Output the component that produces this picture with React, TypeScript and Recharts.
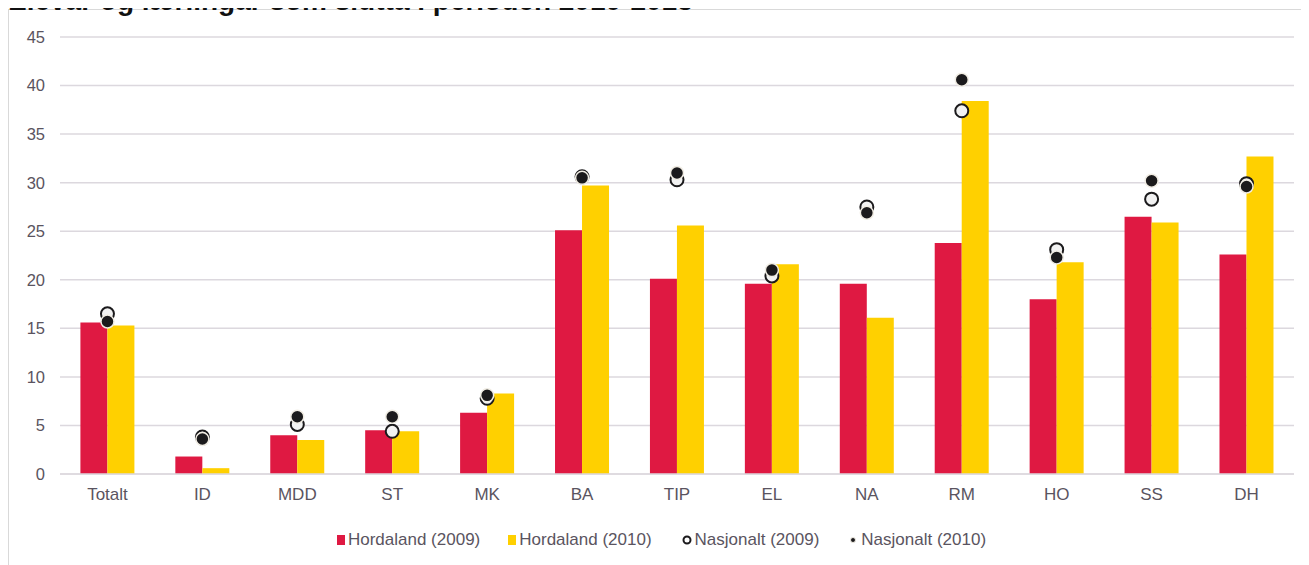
import React from 'react';
import { ComposedChart, Bar, Scatter, XAxis, YAxis, CartesianGrid, Legend } from 'recharts';

const categories = ['Totalt', 'ID', 'MDD', 'ST', 'MK', 'BA', 'TIP', 'EL', 'NA', 'RM', 'HO', 'SS', 'DH'];
const hordaland2009 = [15.6, 1.8, 4.0, 4.5, 6.3, 25.1, 20.1, 19.6, 19.6, 23.8, 18.0, 26.5, 22.6];
const hordaland2010 = [15.3, 0.6, 3.5, 4.4, 8.3, 29.7, 25.6, 21.6, 16.1, 38.4, 21.8, 25.9, 32.7];
const nasjonalt2009 = [16.5, 3.8, 5.1, 4.4, 7.8, 30.6, 30.3, 20.4, 27.5, 37.4, 23.1, 28.3, 29.9];
const nasjonalt2010 = [15.7, 3.6, 5.9, 5.9, 8.1, 30.5, 31.0, 21.0, 26.9, 40.6, 22.3, 30.2, 29.6];
const yTicks = [0, 5, 10, 15, 20, 25, 30, 35, 40, 45];

const seriesNames = ['Hordaland (2009)', 'Hordaland (2010)', 'Nasjonalt (2009)', 'Nasjonalt (2010)'];

const RED = '#DF1942';
const YELLOW = '#FFD000';
const DARK = '#1b1a1c';
const TEXT = '#5a5460';
const GRID = '#dcd8de';
const FONT = 'Arial, "Liberation Sans", sans-serif';

const data = categories.map((c, i) => ({
  name: c,
  h2009: hordaland2009[i],
  h2010: hordaland2010[i],
  n2009: nasjonalt2009[i],
  n2010: nasjonalt2010[i],
}));

const OpenDot = (props: any) => {
  const { cx, cy } = props;
  if (cx == null || cy == null) return null;
  return <circle cx={cx} cy={cy} r={6.5} fill="#f2f2f2" stroke={DARK} strokeWidth={2} />;
};

const FilledDot = (props: any) => {
  const { cx, cy } = props;
  if (cx == null || cy == null) return null;
  return <circle cx={cx} cy={cy} r={6.5} fill={DARK} stroke="#f1ede4" strokeWidth={1.5} />;
};

const LegendContent = () => {
  const item = (marker: React.ReactNode, label: string, gapAfter: number) => (
    <div style={{ display: 'flex', alignItems: 'center', marginRight: gapAfter }}>
      {marker}
      <span style={{ marginLeft: 3 }}>{label}</span>
    </div>
  );
  return (
    <div
      style={{
        display: 'flex',
        justifyContent: 'center',
        alignItems: 'center',
        fontFamily: FONT,
        fontSize: 17,
        color: TEXT,
        paddingLeft: 20,
        paddingTop: 11,
      }}
    >
      {item(<div style={{ width: 8, height: 10, background: RED }} />, seriesNames[0], 28)}
      {item(<div style={{ width: 8, height: 10, background: YELLOW }} />, seriesNames[1], 30)}
      {item(
        <svg width={10} height={10}><circle cx={5} cy={5} r={3.5} fill="#fff" stroke={DARK} strokeWidth={2} /></svg>,
        seriesNames[2],
        29
      )}
      {item(
        <svg width={10} height={10}><circle cx={5} cy={5} r={2.5} fill={DARK} stroke="#f1ede4" strokeWidth={1} /></svg>,
        seriesNames[3],
        0
      )}
    </div>
  );
};

export default function App() {
  return (
    <div style={{ position: 'relative', width: 1301, height: 557, fontFamily: FONT }}>
      <div
        style={{
          position: 'absolute',
          left: 0,
          top: 1,
          width: 1320,
          height: 600,
          border: '1px solid #d9d9d9',
          boxSizing: 'border-box',
          background: '#fff',
        }}
      >
        <ComposedChart
          width={1300}
          height={555}
          data={data}
          margin={{ top: 27, right: 15, bottom: 6, left: 0 }}
          barCategoryGap="21.5%"
          barGap={0}
        >
          <CartesianGrid vertical={false} stroke={GRID} strokeWidth={1.5} />
          <XAxis
            dataKey="name"
            height={45}
            tickLine={false}
            axisLine={{ stroke: GRID, strokeWidth: 1.5 }}
            tickMargin={8}
            tick={{ fill: TEXT, fontSize: 17, fontFamily: FONT }}
            interval={0}
          />
          <YAxis
            width={51}
            domain={[0, 45]}
            ticks={yTicks}
            tickLine={false}
            axisLine={false}
            tickSize={6}
            tickMargin={9}
            tick={{ fill: TEXT, fontSize: 16.5, fontFamily: FONT }}
          />
          <Legend verticalAlign="bottom" height={40} content={<LegendContent />} />
          <Bar dataKey="h2009" name={seriesNames[0]} fill={RED} isAnimationActive={false} />
          <Bar dataKey="h2010" name={seriesNames[1]} fill={YELLOW} isAnimationActive={false} />
          <Scatter dataKey="n2009" name={seriesNames[2]} shape={<OpenDot />} isAnimationActive={false} />
          <Scatter dataKey="n2010" name={seriesNames[3]} shape={<FilledDot />} isAnimationActive={false} />
        </ComposedChart>
      </div>
      <div
        style={{
          position: 'absolute',
          left: 0,
          top: -21,
          fontSize: 28,
          lineHeight: '28px',
          fontWeight: 'bold',
          color: '#111',
          whiteSpace: 'nowrap',
          zIndex: 1,
        }}
      >
        Elevar og lærlingar som slutta i perioden 2010-2013
      </div>
    </div>
  );
}
